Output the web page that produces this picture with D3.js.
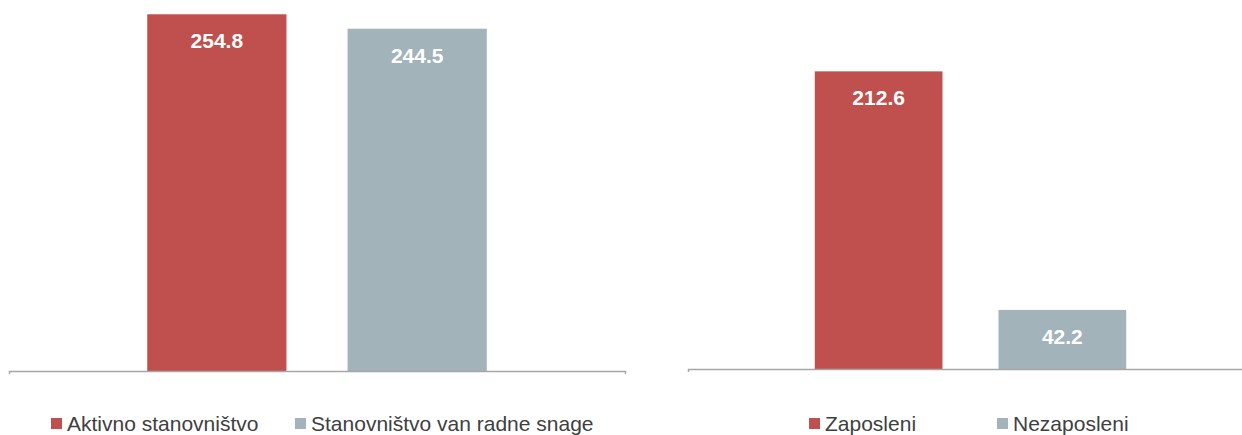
<!DOCTYPE html>
<html>
<head>
<meta charset="utf-8">
<script src="https://cdn.jsdelivr.net/npm/d3@7"></script>
<style>
  body { margin: 0; background: #fff; }
  svg text { font-family: "Liberation Sans", Arial, sans-serif; }
</style>
</head>
<body>
<div id="chart"></div>
<script>
// values
var leftSeries = ["Aktivno stanovništvo", "Stanovništvo van radne snage"];
var leftValues = [254.8, 244.5];
var rightSeries = ["Zaposleni", "Nezaposleni"];
var rightValues = [212.6, 42.2];
var colors = ["#C0504D", "#A2B3BA"];

var W = 1242, H = 435;

var svg = d3.select("#chart")
  .append("svg")
  .attr("width", W)
  .attr("height", H);

// draw one panel: bars, value labels, baseline and legend
function panel(series, values, x0, x1, base, legendX) {
  var x = d3.scaleBand().domain(series).range([x0, x1])
    .paddingInner(0.305).paddingOuter(0.69);
  var y = d3.scaleLinear().domain([0, 260]).range([base, base - 364]);

  var g = svg.append("g");

  g.selectAll("rect.bar")
    .data(values)
    .enter().append("rect")
    .attr("class", "bar")
    .attr("x", function(d, i) { return x(series[i]); })
    .attr("y", function(d) { return y(d); })
    .attr("width", x.bandwidth())
    .attr("height", function(d) { return base - y(d); })
    .style("fill", function(d, i) { return colors[i]; });

  g.selectAll("text.val")
    .data(values)
    .enter().append("text")
    .attr("class", "val")
    .attr("x", function(d, i) { return x(series[i]) + x.bandwidth() / 2; })
    .attr("y", function(d) { return y(d) + 34; })
    .attr("text-anchor", "middle")
    .style("font-size", "21px")
    .style("font-weight", "bold")
    .style("fill", "#fff")
    .text(function(d) { return d3.format(".1f")(d); });

  // baseline with small end ticks
  var axis = g.append("g")
    .attr("transform", "translate(0," + base + ")")
    .call(d3.axisBottom(x).tickSize(0).tickSizeOuter(3).tickFormat(""));
  axis.select(".domain").attr("stroke", "#A6A6A6").attr("stroke-width", 1.5);

  // legend
  var lg = g.append("g").attr("transform", "translate(0,418)");
  var lx = legendX;
  series.forEach(function(s, i) {
    lg.append("rect")
      .attr("x", lx[i]).attr("y", 0)
      .attr("width", 11).attr("height", 11)
      .style("fill", colors[i]);
    lg.append("text")
      .attr("x", lx[i] + 16).attr("y", 13)
      .style("font-size", "21px")
      .style("fill", "#404040")
      .text(s);
  });
}

panel(leftSeries, leftValues, 9, 625, 371, [51, 295]);
panel(rightSeries, rightValues, 688, 1253, 369, [809, 997]);
</script>
</body>
</html>
